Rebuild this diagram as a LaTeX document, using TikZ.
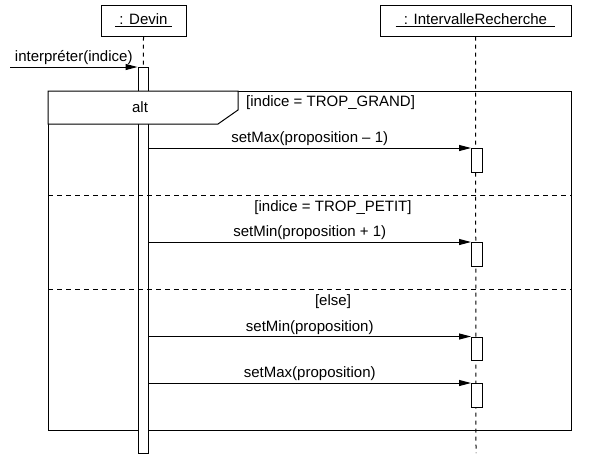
\documentclass[tikz,border=0pt]{standalone}
\usepackage{fontspec}
\setmainfont{Liberation Sans}
\usetikzlibrary{arrows.meta}

\tikzset{
  objbox/.style={draw,line width=1pt,minimum height=31pt,inner sep=0pt},
  lifeline/.style={line width=1pt,dash pattern=on 4pt off 4pt},
  actbar/.style={draw,fill=white,line width=1pt,inner sep=0pt,minimum width=10pt},
  msg/.style={line width=1pt,-{Triangle[length=12pt,width=6pt]}},
  msglabel/.style={above,inner sep=1.5pt},
  divider/.style={line width=1pt,dash pattern=on 5pt off 4pt}
}

\begin{document}
\begin{tikzpicture}[x=1pt,y=-1pt,font=\fontsize{15}{18}\selectfont]
\useasboundingbox (0,0) rectangle (604,467);

% objects
\node[objbox,minimum width=85pt] (devin) at (143.5,20.5) {\underline{\ : Devin\ }};
\node[objbox,minimum width=191pt] (ir) at (475.5,20.5) {\underline{\ \ : IntervalleRecherche\ \ }};

% lifelines
\coordinate (devinend) at (143,453);
\coordinate (irend) at (476,453);
\draw[lifeline] (devin.south) -- (devinend);
\draw[lifeline] (ir.south) -- (irend);

% alt frame
\draw[line width=1pt] (48,91) rectangle (571,430);
\node[anchor=west,inner sep=0pt] (grand) at (246,103) {[indice = TROP\_GRAND]};

% activations
\node[actbar,anchor=north,minimum height=386pt] (act0) at (143,67) {};
\node[actbar,anchor=north west,minimum width=11pt,minimum height=23.5pt] (act1) at (471,148) {};
\node[actbar,anchor=north west,minimum width=11pt,minimum height=23.5pt] (act2) at (471,242) {};
\node[actbar,anchor=north west,minimum width=11pt,minimum height=23.5pt] (act3) at (471,336.5) {};
\node[actbar,anchor=north west,minimum width=11pt,minimum height=23.5pt] (act4) at (471,383) {};

% operands
\draw[divider] (48,195) -- (571,195);
\node (petit) at (333,207.5) {[indice = TROP\_PETIT]};
\draw[divider] (48,289) -- (571,289);
\node (else) at (333,301.5) {[else]};

% alt tab (over the bar)
\draw[line width=1pt,fill=white] (48,91) -- (238,91) -- (238,110) -- (218,124) -- (48,124) -- cycle;
\node (alt) at (140,107) {alt};

% messages
\coordinate (caller) at (10,67);
\draw[msg] (caller) -- (act0.north west) node[msglabel,midway] {interpréter(indice)};
\draw[msg] (act0.east |- act1.north west) -- (act1.north west) node[msglabel,midway] {setMax(proposition – 1)};
\draw[msg] (act0.east |- act2.north west) -- (act2.north west) node[msglabel,midway] {setMin(proposition + 1)};
\draw[msg] (act0.east |- act3.north west) -- (act3.north west) node[msglabel,midway] {setMin(proposition)};
\draw[msg] (act0.east |- act4.north west) -- (act4.north west) node[msglabel,midway] {setMax(proposition)};
\end{tikzpicture}
\end{document}
